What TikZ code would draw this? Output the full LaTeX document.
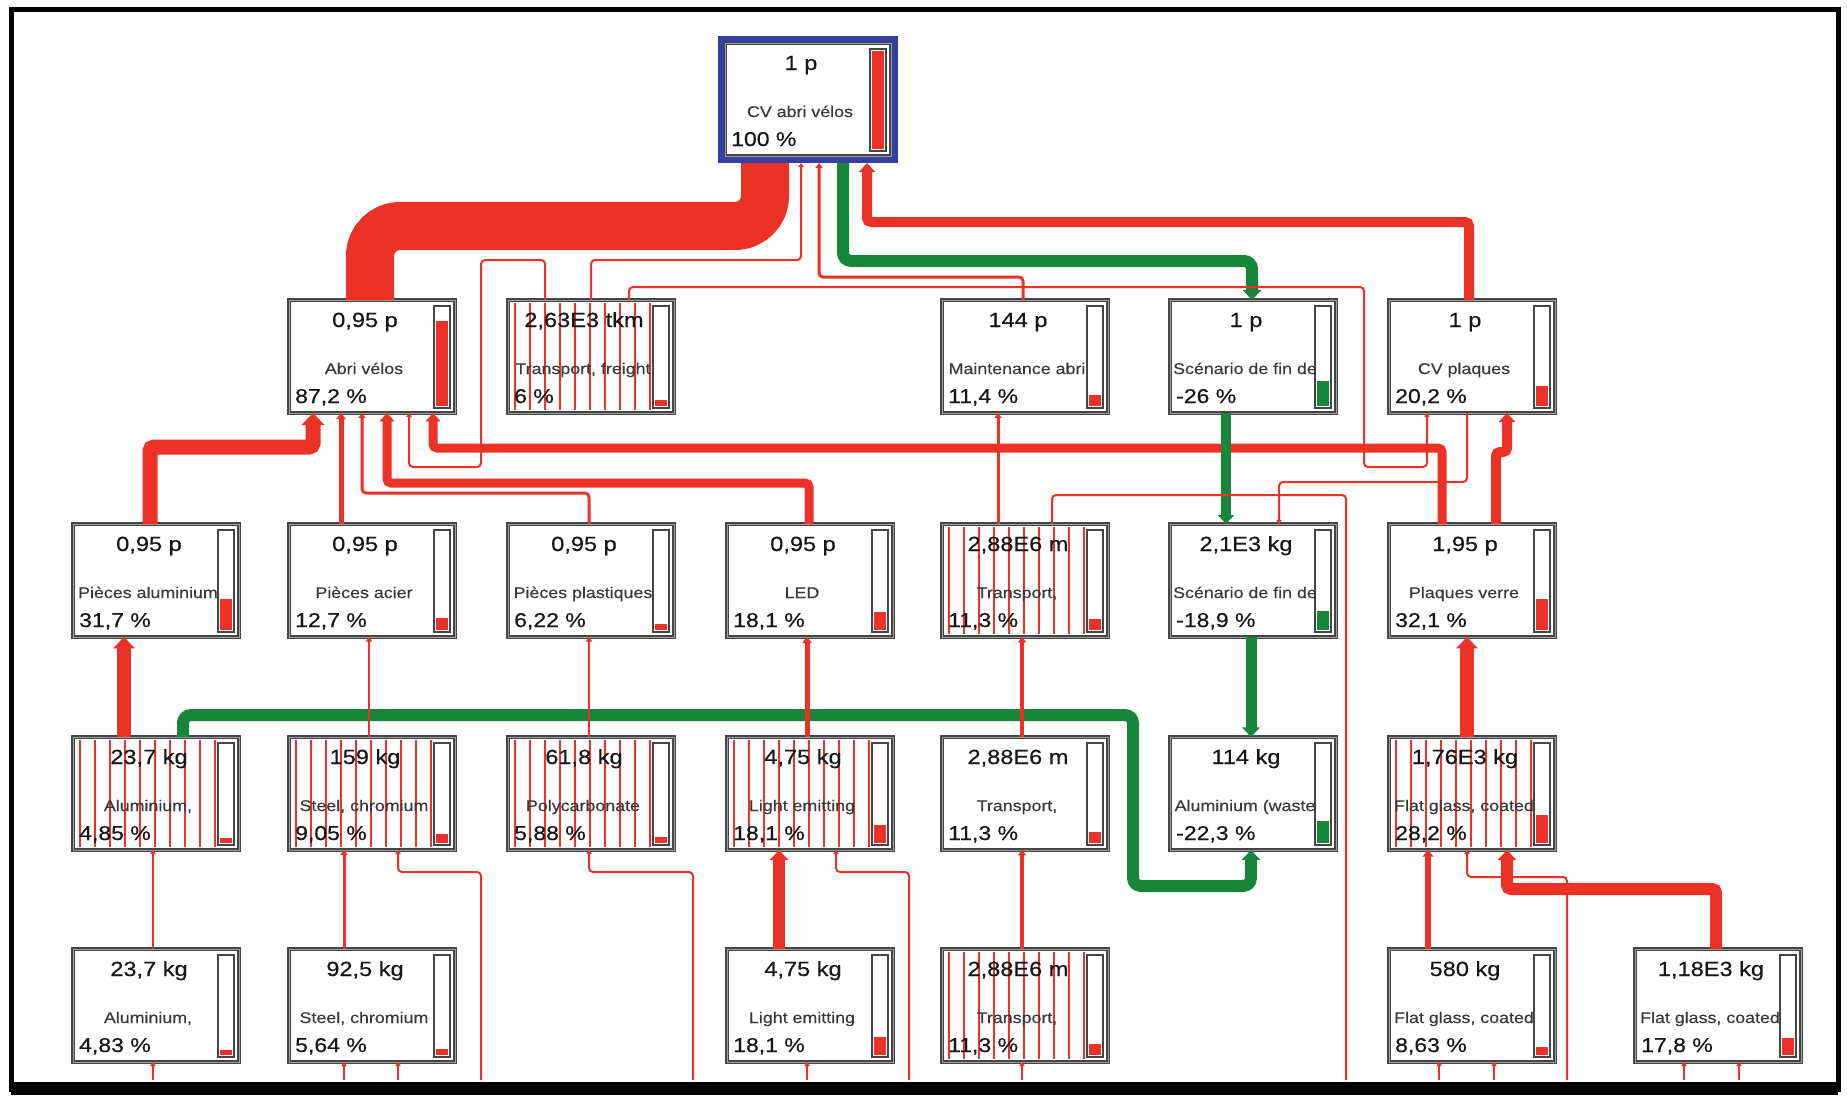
\documentclass[tikz,border=0pt]{standalone}
\usepackage{fontspec}
\setmainfont{Liberation Sans}[FakeStretch=1.15, FakeBold=0.35]
\usepackage{tikz}
\usetikzlibrary{calc,arrows.meta}
\definecolor{flowred}{HTML}{EC3226}
\definecolor{flowgreen}{HTML}{17863B}
\definecolor{selblue}{HTML}{3241A0}
\definecolor{boxgray}{HTML}{454545}
\definecolor{ink}{HTML}{161616}

\tikzset{
  procbox/.style={draw=boxgray, line width=4pt, fill=white, minimum width=166pt, minimum height=113pt, inner sep=0pt, outer sep=0pt},
  boxrim/.style={draw=gray!75, line width=0.8pt},
  gauge/.style={draw=boxgray, line width=1.8pt, fill=white},
  hatchline/.style={draw=flowred, line width=1.1pt},
  valtext/.style={font=\fontsize{20.5}{22}\selectfont, text=ink, inner sep=0pt, anchor=base},
  nametext/.style={font=\fontsize{15.5}{17}\selectfont, text=ink!85, inner sep=0pt, anchor=base},
  pcttext/.style={font=\fontsize{20}{22}\selectfont, text=ink, inner sep=0pt, anchor=base west},
  selframe/.style={draw=selblue, line width=6pt},
  flow/.style={draw=flowred, rounded corners=4pt, -{Triangle[length=3pt 0.6, width=3pt 1.3]}},
  avoided/.style={flow, draw=flowgreen, rounded corners=8pt},
}

\newcommand{\procbox}[9]{%
  \node[procbox] (#1) at (#2+83,#3+56.5) {};
  \draw[boxrim] (#1.north west) rectangle (#1.south east);
  \ifnum#9=1
    \foreach \hx in {7,22,...,142}
      \draw[hatchline] ($(#1.north west)+(\hx,3)$) -- ($(#1.south west)+(\hx,-3)$);
  \fi
  \draw[gauge] ($(#1.north east)+(-21,6)$) rectangle ($(#1.south east)+(-5,-5)$);
  \fill[#8] ($(#1.south east)+(-19,-7)$) rectangle ($(#1.south east)+(-7,{-7-#7*98})$);
  \node[valtext] (#1-v) at ($(#1.north west)+(76,27)$) {#4};
  \node[nametext] (#1-n) at ($(#1.north west)+(75,74)$) {#5};
  \node[pcttext] (#1-p) at ($(#1.north west)+(6,103)$) {#6};
}

\begin{document}
\begin{tikzpicture}[x=1pt, y=-1pt, line cap=butt]
  \useasboundingbox (0,0) rectangle (1847,1095);
  \fill[white] (0,0) rectangle (1847,1095);

  \procbox{cv}{725}{43}{1 p}{CV abri vélos}{100 \%}{1}{flowred}{0}
  \draw[selframe] ($(cv.north west)+(-4,-4)$) rectangle ($(cv.south east)+(4,4)$);
  \coordinate (cvb) at ($(cv.south)+(0,7)$);

  \procbox{abri}{289}{300}{0,95 p}{Abri vélos}{87,2 \%}{.872}{flowred}{0}
  \procbox{trfr}{508}{300}{2,63E3 tkm}{Transport, freight}{6 \%}{.06}{flowred}{1}
  \procbox{maint}{942}{300}{144 p}{Maintenance abri}{11,4 \%}{.114}{flowred}{0}
  \procbox{scen}{1170}{300}{1 p}{Scénario de fin de}{-26 \%}{.26}{flowgreen}{0}
  \procbox{cvpl}{1389}{300}{1 p}{CV plaques}{20,2 \%}{.202}{flowred}{0}

  \procbox{palu}{73}{524}{0,95 p}{Pièces aluminium}{31,7 \%}{.317}{flowred}{0}
  \procbox{pacier}{289}{524}{0,95 p}{Pièces acier}{12,7 \%}{.127}{flowred}{0}
  \procbox{pplast}{508}{524}{0,95 p}{Pièces plastiques}{6,22 \%}{.0622}{flowred}{0}
  \procbox{led}{727}{524}{0,95 p}{LED}{18,1 \%}{.181}{flowred}{0}
  \procbox{trrd}{942}{524}{2,88E6 m}{Transport,}{11,3 \%}{.113}{flowred}{1}
  \procbox{scenkg}{1170}{524}{2,1E3 kg}{Scénario de fin de}{-18,9 \%}{.189}{flowgreen}{0}
  \procbox{plverre}{1389}{524}{1,95 p}{Plaques verre}{32,1 \%}{.321}{flowred}{0}

  \procbox{alu}{73}{737}{23,7 kg}{Aluminium,}{4,85 \%}{.0485}{flowred}{1}
  \procbox{steel}{289}{737}{159 kg}{Steel, chromium}{9,05 \%}{.0905}{flowred}{1}
  \procbox{pc}{508}{737}{61,8 kg}{Polycarbonate}{5,88 \%}{.0588}{flowred}{1}
  \procbox{light}{727}{737}{4,75 kg}{Light emitting}{18,1 \%}{.181}{flowred}{1}
  \procbox{trrd2}{942}{737}{2,88E6 m}{Transport,}{11,3 \%}{.113}{flowred}{0}
  \procbox{aluw}{1170}{737}{114 kg}{Aluminium (waste}{-22,3 \%}{.223}{flowgreen}{0}
  \procbox{flat}{1389}{737}{1,76E3 kg}{Flat glass, coated}{28,2 \%}{.282}{flowred}{1}

  \procbox{alu2}{73}{949}{23,7 kg}{Aluminium,}{4,83 \%}{.0483}{flowred}{0}
  \procbox{steel2}{289}{949}{92,5 kg}{Steel, chromium}{5,64 \%}{.0564}{flowred}{0}
  \procbox{light2}{727}{949}{4,75 kg}{Light emitting}{18,1 \%}{.181}{flowred}{0}
  \procbox{trrd3}{942}{949}{2,88E6 m}{Transport,}{11,3 \%}{.113}{flowred}{1}
  \procbox{flat2}{1389}{949}{580 kg}{Flat glass, coated}{8,63 \%}{.0863}{flowred}{0}
  \procbox{flat3}{1635}{949}{1,18E3 kg}{Flat glass, coated}{17,8 \%}{.178}{flowred}{0}

  \coordinate (cut1) at (481,1080);
  \coordinate (cut2) at (693,1080);
  \coordinate (cut3) at (909,1080);
  \coordinate (cut4) at (1346,1080);
  \coordinate (cut5) at (1567,1080);

  \draw[flow, line width=48pt, rounded corners=30pt, -] (370,0 |- abri.north) -- (370,226) -- (765,226) -- (765,0 |- cvb);
  \draw[flow, line width=2pt] (591,0 |- trfr.north) -- (591,260) -- (801,260) -- (801,0 |- cvb);
  \draw[flow, line width=3pt] (1023,0 |- maint.north) -- (1023,277) -- (819,277) -- (819,0 |- cvb);
  \draw[avoided, line width=12pt] (843,0 |- cvb) -- (843,261) -- (1252,261) -- (1252,0 |- scen.north);
  \draw[flow, line width=10pt] (1469,0 |- cvpl.north) -- (1469,222) -- (867,222) -- (867,0 |- cvb);

  \draw[flow, line width=2pt] (545,0 |- trfr.north) -- (545,260) -- (481,260) -- (481,467) -- (409,467) -- (409,0 |- abri.south);
  \draw[flow, line width=2pt] (629,0 |- trfr.north) -- (629,287) -- (1364,287) -- (1364,467) -- (1427,467) -- (1427,0 |- cvpl.south);
  \draw[flow, line width=15pt] (150,0 |- palu.north) -- (150,447) -- (313,447) -- (313,0 |- abri.south);
  \draw[flow, line width=5pt] (341,0 |- pacier.north) -- (341,0 |- abri.south);
  \draw[flow, line width=3pt] (589,0 |- pplast.north) -- (589,493) -- (362,493) -- (362,0 |- abri.south);
  \draw[flow, line width=9pt] (809,0 |- led.north) -- (809,483) -- (387,483) -- (387,0 |- abri.south);
  \draw[flow, line width=9pt] (1442,0 |- plverre.north) -- (1442,448) -- (433,448) -- (433,0 |- abri.south);
  \draw[flow, line width=10pt] (1496,0 |- plverre.north) -- (1496,452) -- (1507,452) -- (1507,0 |- cvpl.south);
  \draw[flow, line width=2pt] (1467,0 |- cvpl.south) -- (1467,482) -- (1279,482) -- (1279,0 |- scenkg.north);
  \draw[avoided, line width=10pt] (1226,0 |- scen.south) -- (1226,0 |- scenkg.north);
  \draw[flow, line width=3pt] (998,0 |- trrd.north) -- (998,0 |- maint.south);
  \draw[flow, line width=2pt, -] (cut4) -- (1346,495) -- (1052,495) -- (1052,0 |- trrd.north);

  \draw[flow, line width=14pt] (124,0 |- alu.north) -- (124,0 |- palu.south);
  \draw[avoided, line width=12pt] (183,0 |- alu.north) -- (183,715) -- (1133,715) -- (1133,886) -- (1251,886) -- (1251,0 |- aluw.south);
  \draw[avoided, line width=11pt] (1251,0 |- scenkg.south) -- (1251,0 |- aluw.north);
  \draw[flow, line width=2.5pt] (369,0 |- steel.north) -- (369,0 |- pacier.south);
  \draw[flow, line width=2.5pt] (589,0 |- pc.north) -- (589,0 |- pplast.south);
  \draw[flow, line width=5pt] (807,0 |- light.north) -- (807,0 |- led.south);
  \draw[flow, line width=4pt] (1022,0 |- trrd2.north) -- (1022,0 |- trrd.south);
  \draw[flow, line width=14pt] (1467,0 |- flat.north) -- (1467,0 |- plverre.south);

  \draw[flow, line width=2pt] (153,0 |- alu2.north) -- (153,0 |- alu.south);
  \draw[flow, line width=3pt] (344,0 |- steel2.north) -- (344,0 |- steel.south);
  \draw[flow, line width=12pt] (779,0 |- light2.north) -- (779,0 |- light.south);
  \draw[flow, line width=4pt] (1022,0 |- trrd3.north) -- (1022,0 |- trrd2.south);
  \draw[flow, line width=6pt] (1428,0 |- flat2.north) -- (1428,0 |- flat.south);
  \draw[flow, line width=12pt] (1716,0 |- flat3.north) -- (1716,889) -- (1507,889) -- (1507,0 |- flat.south);

  \draw[flow, line width=2pt] (cut1) -- (481,872) -- (398,872) -- (398,0 |- steel.south);
  \draw[flow, line width=2pt] (cut2) -- (693,872) -- (589,872) -- (589,0 |- pc.south);
  \draw[flow, line width=2pt] (cut3) -- (909,872) -- (836,872) -- (836,0 |- light.south);
  \draw[flow, line width=2pt] (cut5) -- (1567,877) -- (1467,877) -- (1467,0 |- flat.south);
  \foreach \sx/\sb in {153/alu2, 344/steel2, 398/steel2, 807/light2, 1022/trrd3, 1439/flat2, 1494/flat2, 1684/flat3, 1739/flat3}
    \draw[flow, line width=2pt] (\sx,1080) -- (\sx,0 |- \sb.south);

  \draw[line width=5pt] (11,9) rectangle (1838,1089);
  \fill (11,1082) rectangle (1838,1095);
\end{tikzpicture}
\end{document}
